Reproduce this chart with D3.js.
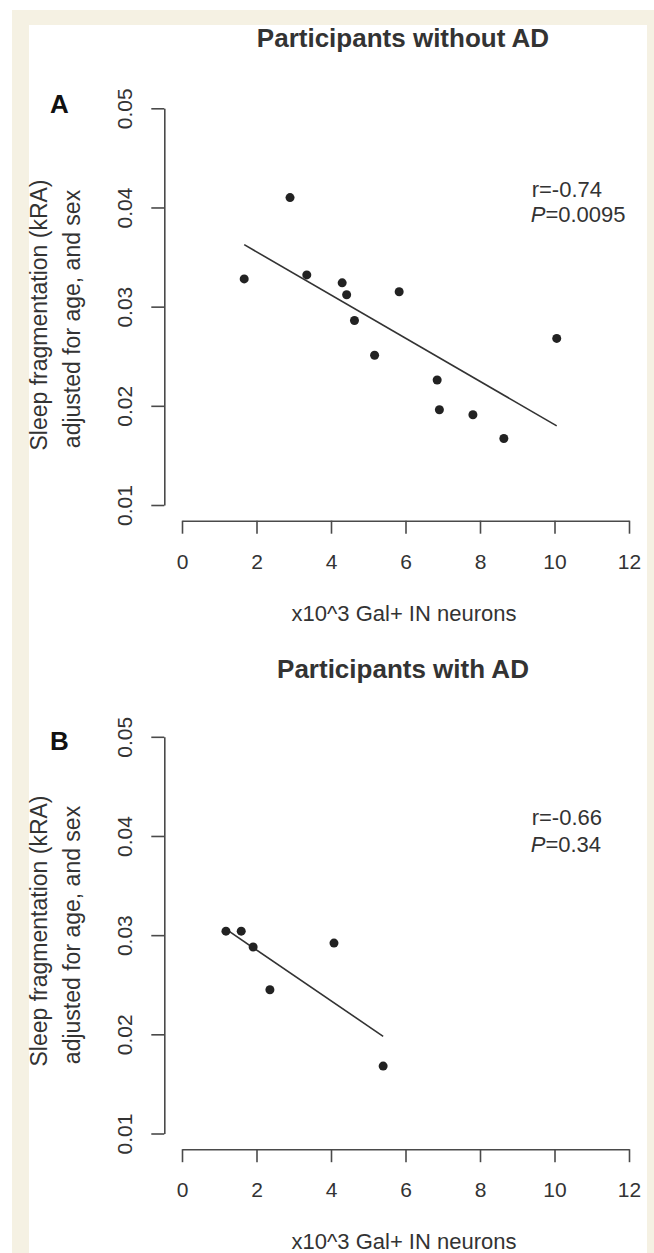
<!DOCTYPE html>
<html>
<head>
<meta charset="utf-8">
<script src="https://cdn.jsdelivr.net/npm/d3@7"></script>
<style>
  html, body { margin: 0; padding: 0; background: #ffffff; }
  svg { display: block; }
  text { font-family: "Liberation Sans", Arial, Helvetica, sans-serif; fill: #333333; }
</style>
</head>
<body>
<div id="chart"></div>
<script>
// ---- data ----
const xTicks = [0, 2, 4, 6, 8, 10, 12];
const yTicks = [0.01, 0.02, 0.03, 0.04, 0.05];
const yTickLabels = ["0.01", "0.02", "0.03", "0.04", "0.05"];

const neuronsA = [1.67, 2.90, 3.35, 4.30, 4.42, 4.63, 5.17, 5.83, 6.85, 6.91, 7.81, 8.64, 10.06];
const kraA     = [0.0328, 0.0410, 0.0332, 0.0324, 0.0312, 0.0286, 0.0251, 0.0315, 0.0226, 0.0196, 0.0191, 0.0167, 0.0268];
const fitA     = [[1.67, 0.03625], [10.06, 0.01798]];

const neuronsB = [1.18, 1.59, 1.91, 2.36, 4.08, 5.40];
const kraB     = [0.0304, 0.0304, 0.0288, 0.0245, 0.0292, 0.0168];
const fitB     = [[1.18, 0.0306], [5.40, 0.0198]];

const panels = [
  { letter: "A", title: "Participants without AD", r: "r=-0.74", p: "=0.0095", xs: neuronsA, ys: kraA, fit: fitA },
  { letter: "B", title: "Participants with AD",    r: "r=-0.66", p: "=0.34",   xs: neuronsB, ys: kraB, fit: fitB }
];
const yLabel1 = "Sleep fragmentation (kRA)";
const yLabel2 = "adjusted for age, and sex";
const xLabel  = "x10^3 Gal+ IN neurons";

// ---- layout ----
const W = 654, H = 1253;
const svg = d3.select("#chart").append("svg").attr("width", W).attr("height", H);

svg.append("rect").attr("x", 12).attr("y", 10).attr("width", W - 12).attr("height", H - 10).attr("fill", "#f5f1e3");
svg.append("rect").attr("x", 29).attr("y", 25).attr("width", 618).attr("height", H - 25).attr("fill", "#ffffff");

const x = d3.scaleLinear().domain([0, 12]).range([182, 629]);
const panelOffset = [0, 628.5];
const inkAxis = "#4a4a4a";

panels.forEach((pn, i) => {
  const off = panelOffset[i];
  const y = d3.scaleLinear().domain([0.01, 0.05]).range([505 + off, 108.3 + off]);
  const g = svg.append("g");

  // title
  g.append("text").attr("x", 403).attr("y", 47 + off + (i ? 2 : 0))
    .attr("text-anchor", "middle").attr("font-weight", "bold").attr("font-size", 26)
    .text(pn.title);

  // panel letter
  g.append("text").attr("x", 50).attr("y", i ? 750 : 113)
    .attr("font-weight", "bold").attr("font-size", 26).style("fill", "#111")
    .text(pn.letter);

  // x axis
  const xAxisY = 520.7 + off;
  const xa = g.append("g").attr("transform", `translate(0,${xAxisY})`)
    .call(d3.axisBottom(x).tickValues(xTicks).tickFormat(d3.format("d")).tickSize(13).tickSizeOuter(0).tickPadding(20));
  xa.select(".domain").attr("stroke", inkAxis).attr("stroke-width", 1.6);
  xa.selectAll(".tick line").attr("stroke", inkAxis).attr("stroke-width", 1.6);
  xa.selectAll(".tick text").attr("font-size", 21).attr("fill", "#333")
    .style("font-family", '"Liberation Sans", Arial, sans-serif');

  // y axis
  const ya = g.append("g").attr("transform", `translate(164.3,0)`)
    .call(d3.axisLeft(y).tickValues(yTicks).tickFormat((d, k) => yTickLabels[k]).tickSize(13).tickSizeOuter(0));
  ya.select(".domain").attr("stroke", inkAxis).attr("stroke-width", 1.6);
  ya.selectAll(".tick line").attr("stroke", inkAxis).attr("stroke-width", 1.6);
  ya.selectAll(".tick text")
    .attr("x", null).attr("dy", null)
    .attr("transform", "translate(-32.6,0) rotate(-90)")
    .attr("text-anchor", "middle").attr("font-size", 21).attr("fill", "#333")
    .style("font-family", '"Liberation Sans", Arial, sans-serif');

  // axis labels
  const yc = i ? 931 : 315;
  g.append("text").attr("transform", `translate(47,${yc}) rotate(-90)`)
    .attr("text-anchor", "middle").attr("font-size", 23).text(yLabel1);
  g.append("text").attr("transform", `translate(80,${yc + 4}) rotate(-90)`)
    .attr("text-anchor", "middle").attr("font-size", 23).text(yLabel2);
  g.append("text").attr("x", 404).attr("y", 620.5 + off)
    .attr("text-anchor", "middle").attr("font-size", 22).text(xLabel);

  // regression line
  g.append("path")
    .attr("d", d3.line().x(d => x(d[0])).y(d => y(d[1]))(pn.fit))
    .attr("stroke", "#333").attr("stroke-width", 1.6).attr("fill", "none");

  // points
  g.selectAll("circle.pt").data(pn.xs.map((v, k) => [v, pn.ys[k]])).enter()
    .append("circle").attr("class", "pt")
    .attr("cx", d => x(d[0])).attr("cy", d => y(d[1])).attr("r", 4.5)
    .attr("fill", "#222");

  // stats annotation
  g.append("text").attr("x", 531.7).attr("y", 196.7 + off).attr("font-size", 22).text(pn.r);
  const pt = g.append("text").attr("x", 530.7).attr("y", 221.7 + off + (i ? 1.5 : 0)).attr("font-size", 22);
  pt.append("tspan").attr("font-style", "italic").text("P");
  pt.append("tspan").text(pn.p);
});
</script>
</body>
</html>
